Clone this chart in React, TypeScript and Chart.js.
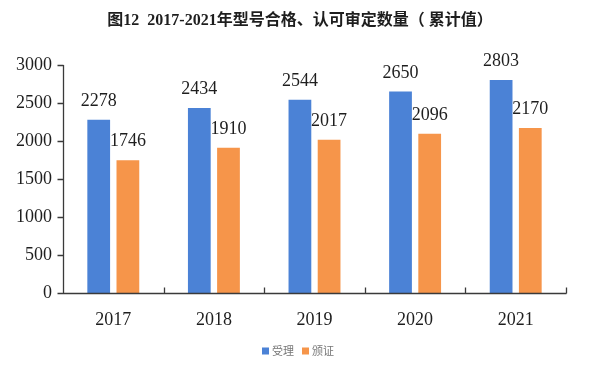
import React, { useEffect, useRef } from "react";
import { Chart, registerables } from "chart.js";

Chart.register(...registerables);

const categories = ["2017", "2018", "2019", "2020", "2021"];
const acceptedValues = [2278, 2434, 2544, 2650, 2803];
const certifiedValues = [1746, 1910, 2017, 2096, 2170];
const seriesNames = ["受理", "颁证"];
const titleText = "图12  2017-2021年型号合格、认可审定数量（ 累计值）";
const yMin = 0;
const yMax = 3000;
const yStep = 500;

const BLUE = "#4B82D6";
const ORANGE = "#F6954A";
const AXIS = "#3a3a3a";
const TEXT = "#1e1e1e";
const SERIF = '"Liberation Serif", "Times New Roman", serif';

const overlay = {
  id: "overlay",
  afterDraw(chart: any) {
    const ctx = chart.ctx;
    const area = chart.chartArea;
    const yScale = chart.scales.y;
    ctx.save();

    // title
    ctx.fillStyle = TEXT;
    ctx.font = 'bold 16px "Liberation Serif", "Noto Sans CJK SC", serif';
    ctx.textAlign = "center";
    ctx.textBaseline = "middle";
    ctx.fillText(titleText, 300, 21);

    // axes
    ctx.strokeStyle = AXIS;
    ctx.lineWidth = 1.3;
    ctx.beginPath();
    const lx = Math.round(area.left) + 0.5;
    const by = Math.round(area.bottom) + 0.5;
    ctx.moveTo(lx, yScale.getPixelForValue(yMax));
    ctx.lineTo(lx, by);
    ctx.lineTo(Math.round(area.right) + 0.5, by);
    for (let v = yMin; v <= yMax; v += yStep) {
      const py = Math.round(yScale.getPixelForValue(v)) + 0.5;
      ctx.moveTo(lx - 6, py);
      ctx.lineTo(lx, py);
    }
    const n = categories.length;
    const cw = (area.right - area.left) / n;
    for (let i = 1; i <= n; i++) {
      const px = Math.round(area.left + cw * i) + 0.5;
      ctx.moveTo(px, by);
      ctx.lineTo(px, by - 6);
    }
    ctx.stroke();

    // data labels
    ctx.font = "18px " + SERIF;
    ctx.fillStyle = TEXT;
    ctx.textAlign = "center";
    ctx.textBaseline = "alphabetic";
    chart.data.datasets.forEach((ds: any, di: number) => {
      const meta = chart.getDatasetMeta(di);
      meta.data.forEach((bar: any, i: number) => {
        ctx.fillText(String(ds.data[i]), bar.x, bar.y - 14);
      });
    });

    // legend
    ctx.font = '11px "Noto Sans CJK SC", sans-serif';
    ctx.textAlign = "left";
    ctx.textBaseline = "middle";
    const ly = 351;
    const colors = [BLUE, ORANGE];
    let x = 262;
    seriesNames.forEach((name, i) => {
      ctx.fillStyle = colors[i];
      ctx.fillRect(x, ly - 3.5, 7, 7);
      ctx.fillStyle = "#777";
      ctx.fillText(name, x + 10, ly);
      x += 10 + ctx.measureText(name).width + 8;
    });

    ctx.restore();
  },
};

export default function App() {
  const ref = useRef<HTMLCanvasElement>(null);
  useEffect(() => {
    const chart = new Chart(ref.current as HTMLCanvasElement, {
      type: "bar",
      data: {
        labels: categories,
        datasets: [
          { label: seriesNames[0], data: acceptedValues, backgroundColor: BLUE },
          { label: seriesNames[1], data: certifiedValues, backgroundColor: ORANGE },
        ],
      },
      options: {
        animation: false,
        responsive: false,
        maintainAspectRatio: false,
        layout: { padding: { top: 65, right: 34, left: 0, bottom: 0 } },
        datasets: { bar: { categoryPercentage: 0.58, barPercentage: 0.78 } },
        plugins: { legend: { display: false }, tooltip: { enabled: false }, title: { display: false } },
        scales: {
          x: {
            grid: { display: false, drawTicks: false },
            border: { display: false },
            ticks: { color: TEXT, font: { family: SERIF, size: 18 }, padding: 16 },
            afterFit: (s: any) => { s.height = 85; },
          },
          y: {
            min: yMin,
            max: yMax,
            grid: { display: false, drawTicks: false },
            border: { display: false },
            ticks: {
              stepSize: yStep,
              color: TEXT,
              font: { family: SERIF, size: 18 },
              padding: 11,
              callback: (v: any) => String(v),
            },
            afterFit: (s: any) => { s.width = 63; },
          },
        },
      },
      plugins: [overlay],
    });
    return () => chart.destroy();
  }, []);
  return (
    <div style={{ position: "absolute", left: 0, top: 0, width: 600, height: 378, background: "#fff" }}>
      <canvas ref={ref} width={600} height={378} style={{ width: 600, height: 378 }} />
    </div>
  );
}
